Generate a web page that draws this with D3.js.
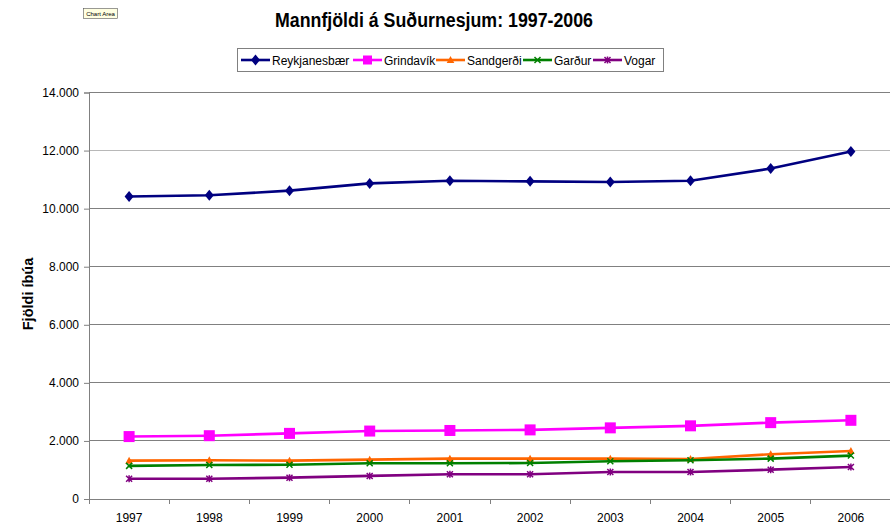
<!DOCTYPE html>
<html><head><meta charset="utf-8">
<script src="https://cdn.jsdelivr.net/npm/d3@7"></script>
<style>
html,body{margin:0;padding:0;background:#fff;}
svg{display:block;font-family:"Liberation Sans",Arial,sans-serif;}
</style></head>
<body><svg id="c" width="890" height="526"></svg>
<script>
const years = ["1997","1998","1999","2000","2001","2002","2003","2004","2005","2006"];
const reykjanesbaer = [10420,10460,10620,10870,10960,10940,10920,10960,11380,11970];
const grindavik = [2150,2180,2260,2340,2360,2380,2450,2520,2630,2710];
const sandgerdi = [1320,1335,1320,1355,1390,1390,1390,1380,1540,1655];
const gardur = [1140,1170,1180,1230,1230,1240,1300,1335,1390,1495];
const vogar = [700,700,735,795,850,850,930,930,1010,1100];
const seriesNames = ["Reykjanesbær","Grindavík","Sandgerði","Garður","Vogar"];
const seriesValues = [reykjanesbaer, grindavik, sandgerdi, gardur, vogar];
const seriesColors = ["#000080","#ff00ff","#ff6600","#008000","#800080"];
const seriesMarkers = ["diamond","square","triangle","x","star"];
const yTicks = [0,2000,4000,6000,8000,10000,12000,14000];

const svg = d3.select("#c");
const L = 89, R = 891, T = 92.5, B = 499;
const x = d3.scaleBand().domain(years).range([L, R]);
const y = d3.scaleLinear().domain([0, 14000]).range([B, T]);
const loc = d3.formatLocale({decimal:",", thousands:".", grouping:[3], currency:["",""]});
const fmt = loc.format(",d");

// gridlines
svg.append("g").selectAll("line").data(yTicks.filter(d => d > 0)).join("line")
  .attr("x1", L).attr("x2", R).attr("y1", d => y(d)).attr("y2", d => y(d))
  .attr("stroke", d => d === 12000 ? "#b8b8b8" : "#808080").attr("stroke-width", 1)
  .attr("shape-rendering", "crispEdges");

// y axis
const ya = svg.append("g").attr("transform", `translate(${L},0)`)
  .call(d3.axisLeft(y).tickValues(yTicks).tickFormat(fmt).tickSize(5).tickPadding(5));
ya.select(".domain").attr("stroke", "#808080");
ya.selectAll(".tick line").attr("stroke", "#808080");
ya.selectAll("text").attr("font-size", 12).attr("fill", "#000").attr("font-family", "Liberation Sans, Arial, sans-serif");

// x axis
const xa = svg.append("g").attr("transform", `translate(0,${B})`)
  .call(d3.axisBottom(x).tickSize(0).tickPadding(14));
xa.select(".domain").attr("stroke", "#808080");
xa.selectAll("text").attr("font-size", 12).attr("fill", "#000").attr("font-family", "Liberation Sans, Arial, sans-serif");
svg.append("g").selectAll("line").data(d3.range(years.length + 1)).join("line")
  .attr("x1", i => L + i * x.step()).attr("x2", i => L + i * x.step())
  .attr("y1", B).attr("y2", B + 5).attr("stroke", "#808080").attr("shape-rendering", "crispEdges");

// markers
function marker(g, type, color) {
  if (type === "diamond") g.append("path").attr("d", "M0,-5.5L4.5,0L0,5.5L-4.5,0Z").attr("fill", color);
  else if (type === "square") g.append("rect").attr("x", -5.5).attr("y", -5.5).attr("width", 11).attr("height", 11).attr("fill", color);
  else if (type === "triangle") g.append("path").attr("d", "M0,-4L3.8,3L-3.8,3Z").attr("fill", color);
  else if (type === "x") g.append("path").attr("d", "M-3,-3L3,3M-3,3L3,-3").attr("stroke", color).attr("stroke-width", 1.5);
  else if (type === "star") g.append("path").attr("d", "M-3,-3L3,3M-3,3L3,-3M0,-3.5V3.5").attr("stroke", color).attr("stroke-width", 1.5);
}

const line = d3.line().x((d, i) => x(years[i]) + x.bandwidth() / 2).y(d => y(d));
seriesValues.forEach((vals, s) => {
  const g = svg.append("g");
  g.append("path").datum(vals).attr("d", line).attr("fill", "none")
    .attr("stroke", seriesColors[s]).attr("stroke-width", 2.6);
  vals.forEach((v, i) => {
    const mg = g.append("g").attr("transform", `translate(${x(years[i]) + x.bandwidth() / 2},${y(v)})`);
    marker(mg, seriesMarkers[s], seriesColors[s]);
  });
});

// title
svg.append("text").attr("x", 434).attr("y", 26.5).attr("text-anchor", "middle")
  .attr("font-size", 19.5).attr("font-weight", "bold")
  .attr("textLength", 318).attr("lengthAdjust", "spacingAndGlyphs")
  .text("Mannfjöldi á Suðurnesjum: 1997-2006");

// y axis title
svg.append("text").attr("transform", "translate(32.5,294) rotate(-90)").attr("text-anchor", "middle")
  .attr("font-size", 14.5).attr("font-weight", "bold").text("Fjöldi íbúa");

// legend
const lg = svg.append("g");
lg.append("rect").attr("x", 237.5).attr("y", 48.5).attr("width", 426).attr("height", 23)
  .attr("fill", "#fff").attr("stroke", "#808080");
const lineStarts = [241, 353, 436, 523, 593];
seriesNames.forEach((n, s) => {
  const x0 = lineStarts[s];
  lg.append("line").attr("x1", x0).attr("x2", x0 + 29).attr("y1", 60).attr("y2", 60)
    .attr("stroke", seriesColors[s]).attr("stroke-width", 2.6);
  const mg = lg.append("g").attr("transform", `translate(${x0 + 14.5},60)`);
  marker(mg, seriesMarkers[s], seriesColors[s]);
  if (seriesMarkers[s] === "square") mg.select("rect").attr("x", -4.5).attr("y", -4.5).attr("width", 9).attr("height", 9);
  lg.append("text").attr("x", x0 + 31).attr("y", 64.5).attr("font-size", 12).text(n);
});

// "Chart Area" tooltip
const tt = svg.append("g");
tt.append("rect").attr("x", 83.5).attr("y", 8.5).attr("width", 34).attr("height", 10)
  .attr("fill", "#ffffe1").attr("stroke", "#555").attr("stroke-width", 0.6);
tt.append("text").attr("x", 100.5).attr("y", 16).attr("text-anchor", "middle")
  .attr("font-size", 6).attr("fill", "#000").text("Chart Area");
</script></body></html>
